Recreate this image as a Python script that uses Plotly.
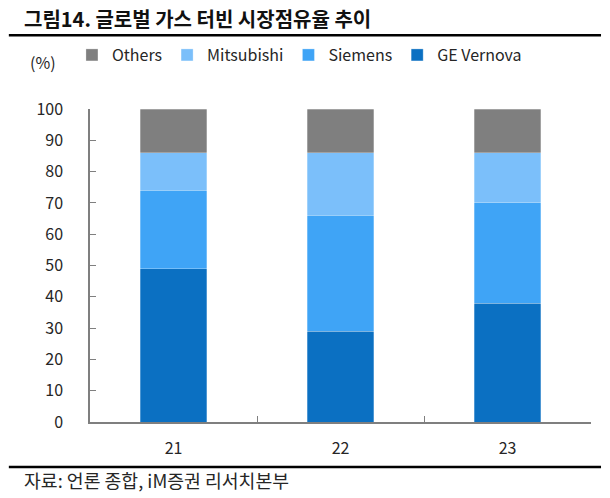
import plotly.graph_objects as go

categories = ["21", "22", "23"]
ge_vernova = [49, 29, 38]
siemens = [25, 37, 32]
mitsubishi = [12, 20, 16]
others = [14, 14, 14]

series = [
    ("GE Vernova", ge_vernova, "#0B70C2"),
    ("Siemens", siemens, "#3FA4F6"),
    ("Mitsubishi", mitsubishi, "#7BBFFA"),
    ("Others", others, "#7F7F7F"),
]

FONT = "Noto Sans CJK KR"

fig = go.Figure()
for name, vals, color in series:
    fig.add_trace(go.Bar(
        x=categories, y=vals, name=name,
        marker=dict(color=color, line=dict(color="rgba(255,255,255,0.35)", width=0.8)),
    ))

fig.update_layout(
    width=610, height=498,
    margin=dict(l=90, r=19, t=109, b=76),
    barmode="stack",
    bargap=0.6,
    paper_bgcolor="white",
    plot_bgcolor="white",
    font=dict(family=FONT, size=16, color="#262626"),
    showlegend=True,
    legend=dict(
        orientation="h", traceorder="reversed",
        x=-0.036, xanchor="left", y=1.1725, yanchor="middle",
        font=dict(size=16, color="#262626"),
        bgcolor="rgba(0,0,0,0)",
        itemwidth=30,
    ),
    xaxis=dict(
        type="category",
        showline=True, linecolor="#7F7F7F", linewidth=1.5,
        ticks="inside", tickson="boundaries", ticklen=6, tickcolor="#7F7F7F",
        tickfont=dict(size=16, color="#262626"),
        ticklabelstandoff=11,
        showgrid=False,
    ),
    yaxis=dict(
        range=[0, 100], dtick=10,
        showline=True, linecolor="#7F7F7F", linewidth=1.5,
        ticks="inside", ticklen=6, tickcolor="#7F7F7F",
        tickfont=dict(size=16, color="#262626"),
        showgrid=False, zeroline=False,
        ticklabelstandoff=22,
    ),
    shapes=[
        dict(type="line", xref="paper", yref="paper", x0=-0.162, x1=1.02, y0=1.236, y1=1.236,
             line=dict(color="black", width=2.5)),
        dict(type="line", xref="paper", yref="paper", x0=-0.162, x1=1.02, y0=-0.144, y1=-0.144,
             line=dict(color="black", width=2.5)),
    ],
    annotations=[
        dict(text="<b>그림14. 글로벌 가스 터빈 시장점유율 추이</b>", xref="paper", yref="paper",
             x=-0.136, y=1.289, xanchor="left", yanchor="middle", showarrow=False,
             font=dict(size=20, color="#111111")),
        dict(text="(%)", xref="paper", yref="paper", x=-0.094, y=1.150,
             xanchor="center", yanchor="middle", showarrow=False,
             font=dict(size=16, color="#262626")),
        dict(text="자료: 언론 종합, iM증권 리서치본부", xref="paper", yref="paper",
             x=-0.136, y=-0.185, xanchor="left", yanchor="middle", showarrow=False,
             font=dict(size=18.3, color="#262626")),
    ],
)

fig.write_html("out.html")
